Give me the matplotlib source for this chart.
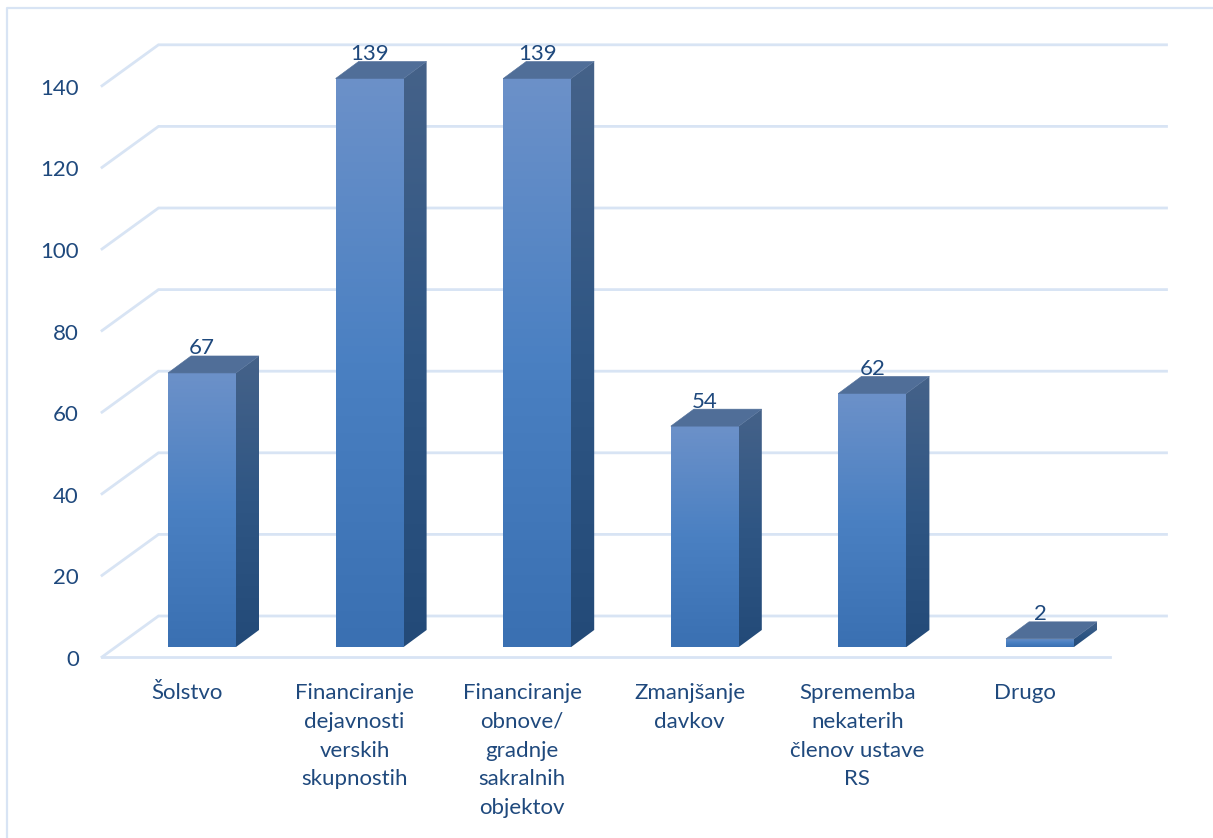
import matplotlib
matplotlib.use('Agg')
import matplotlib.pyplot as plt
from matplotlib.colors import LinearSegmentedColormap
from matplotlib.patches import Polygon
import numpy as np

plt.rcParams['font.family'] = ['Lato', 'DejaVu Sans']

categories = ['Šolstvo', 'Financiranje\ndejavnosti\nverskih\nskupnostih',
              'Financiranje\nobnove/\ngradnje\nsakralnih\nobjektov', 'Zmanjšanje\ndavkov',
              'Sprememba\nnekaterih\nčlenov ustave\nRS', 'Drugo']
values = [67, 139, 139, 54, 62, 2]
y_ticks = [0, 20, 40, 60, 80, 100, 120, 140]

W, H = 1213, 838
px_x = 167.6      # pixels per category
px_y = 4.09       # pixels per unit
grid_px_y = 4.08  # the wall is a little further away than the bars
x0_px = 202       # centre of first bar
y0_px = 647       # bar base

text_col = '#1f497d'
grid_col = '#d8e4f4'

fig = plt.figure(figsize=(W/100, H/100), dpi=100)
ax = fig.add_axes([0, 0, 1, 1])
ax.set_xlim(-x0_px/px_x, (W-x0_px)/px_x)
ax.set_ylim((y0_px-H)/px_y, y0_px/px_y)
ax.axis('off')

# 3d offsets in data units
bar_w = 68/px_x
depth_x = 23/px_x
depth_y = 17/px_y
floor_left = (102-x0_px)/px_x
floor_right = (1110-x0_px)/px_x
floor_dy = -10/px_y
wall_dx = 56.5/px_x
wall_dy = 41/px_y
seam = 1.5/px_x

front_cmap = LinearSegmentedColormap.from_list('front', ['#6c91c9', '#4a80c2', '#3a70b2'])
side_cmap = LinearSegmentedColormap.from_list('side', ['#456289', '#2f5684', '#234a78'])
ramp = np.linspace(0, 1, 256).reshape(-1, 1)


def grad_poly(points, cmap, z):
    poly = Polygon(points, closed=True, fc='none', ec='none', zorder=z)
    ax.add_patch(poly)
    xs, ys = zip(*points)
    im = ax.imshow(ramp, cmap=cmap, extent=(min(xs), max(xs), min(ys), max(ys)),
                   aspect='auto', origin='upper', zorder=z)
    im.set_clip_path(poly)


# back wall grid with slanted left ends
for t in y_ticks:
    yf = t*grid_px_y/px_y + floor_dy
    yb = yf + wall_dy
    ax.plot([floor_left, floor_left+wall_dx, floor_right+wall_dx], [yf, yb, yb],
            color=grid_col, lw=2, zorder=1, solid_joinstyle='miter')
    ax.text((79-x0_px)/px_x, yf-3/px_y, str(t), ha='right', va='center', fontsize=16,
            color=text_col, zorder=6)
ax.plot([floor_left, floor_right], [floor_dy, floor_dy], color=grid_col, lw=2, zorder=1)

# bars, side first so the front face covers the seam
for i, v in enumerate(values):
    l = i - bar_w/2
    r = i + bar_w/2
    grad_poly([(r-seam, 0), (r, 0), (r+depth_x, depth_y), (r+depth_x, v+depth_y), (r, v), (r-seam, v)],
              side_cmap, 3)
    grad_poly([(l, 0), (r, 0), (r, v), (l, v)], front_cmap, 4)
    ax.add_patch(Polygon([(l, v), (r, v), (r+depth_x, v+depth_y), (l+depth_x, v+depth_y)],
                         closed=True, fc='#506e98', ec='#506e98', lw=0.4, zorder=5))
    ax.text(i, v+depth_y-0.6, str(v), ha='center', va='bottom', fontsize=16, color=text_col, zorder=6)

# category labels
for i, c in enumerate(categories):
    ax.text(i-15/px_x, (y0_px-683)/px_y, c, ha='center', va='top', fontsize=16,
            color=text_col, linespacing=1.55, zorder=6)

# chart frame
ax.plot([7/px_x-x0_px/px_x, 7/px_x-x0_px/px_x, (W-x0_px)/px_x],
        [(y0_px-H)/px_y, (y0_px-8)/px_y, (y0_px-8)/px_y], color=grid_col, lw=1.6, zorder=1)

fig.savefig('out.png', dpi=100)
